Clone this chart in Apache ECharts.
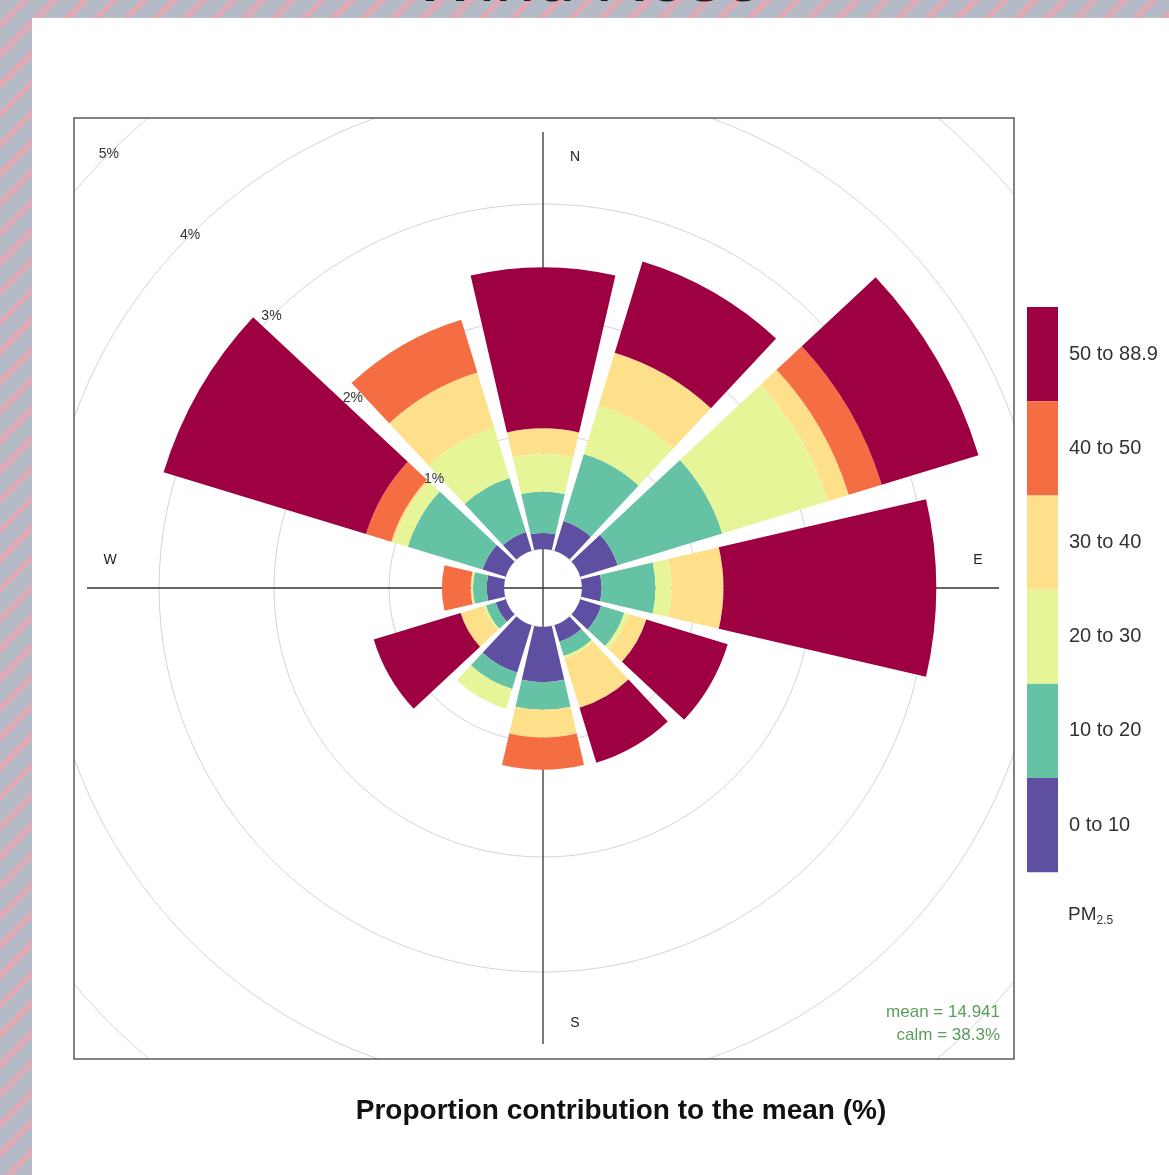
<!DOCTYPE html>
<html>
<head>
<meta charset="utf-8">
<script src="https://cdn.jsdelivr.net/npm/echarts@6/dist/echarts.min.js"></script>
<style>
  html, body {
    margin: 0; padding: 0; width: 1169px; height: 1175px; overflow: hidden;
    background: repeating-linear-gradient(135deg, #b5bac7 0 15px, #dfaab4 15px 21px);
  }
  #title { position: absolute; left: 0; top: 0; width: 1169px; height: 18px; }
  #chart { position: absolute; left: 32px; top: 18px; width: 1137px; height: 1157px; background: #fff; }
</style>
</head>
<body>
<div id="title"></div>
<div id="chart"></div>
<script>
// Wind sectors, clockwise from north
const directions = ['N', 'NNE', 'ENE', 'E', 'ESE', 'SSE', 'S', 'SSW', 'WSW', 'W', 'WNW', 'NNW'];

// PM2.5 concentration bands and their colours
const bandNames  = ['0 to 10', '10 to 20', '20 to 30', '30 to 40', '40 to 50', '50 to 88.9'];
const bandColors = ['#5E4FA2', '#66C2A5', '#E6F598', '#FEE08B', '#F46D43', '#9E0142'];

// Contribution to the mean (%) of each band, per sector
const pm0_10   = [0.14, 0.27, 0.34, 0.17, 0.19, 0.15, 0.48, 0.43, 0.09, 0.15, 0.21, 0.17];
const pm10_20  = [0.36, 0.61, 0.95, 0.47, 0.21, 0.13, 0.24, 0.15, 0.09, 0.12, 0.68, 0.49];
const pm20_30  = [0.33, 0.44, 0.96, 0.14, 0.04, 0.02, 0.00, 0.18, 0.02, 0.01, 0.13, 0.46];
const pm30_40  = [0.22, 0.48, 0.19, 0.45, 0.16, 0.45, 0.24, 0.00, 0.21, 0.01, 0.02, 0.50];
const pm40_50  = [0.00, 0.00, 0.30, 0.00, 0.00, 0.00, 0.28, 0.00, 0.00, 0.25, 0.23, 0.48];
const pm50_889 = [1.40, 0.83, 0.88, 1.85, 0.74, 0.50, 0.00, 0.00, 0.79, 0.00, 1.84, 0.00];
const bandValues = [pm0_10, pm10_20, pm20_30, pm30_40, pm40_50, pm50_889];

// Radial grid (%) and compass labels
const radiusMax = 5.5;
const radiusStep = 1;
const compass = ['N', 'E', 'S', 'W'];
const meanText = 'mean = 14.941';
const calmText = 'calm = 38.3%';
const captionText = 'Proportion contribution to the mean (%)';

// Layout (pixels inside the white panel)
const cx = 511, cy = 570;          // rose centre
const hole = 39;                   // calm circle radius
const pxPerPct = 115;              // radial scale
const outerR = hole + pxPerPct * radiusMax;
const box = { x: 42, y: 100, w: 940, h: 941 };
const W = 1137, H = 1157;
const font = 'Liberation Sans, Arial, sans-serif';

const series = bandNames.map((name, i) => ({
  type: 'bar',
  name: name,
  coordinateSystem: 'polar',
  polarIndex: 0,
  stack: 'pm',
  data: bandValues[i],
  barCategoryGap: '13%',
  itemStyle: { color: bandColors[i] },
  emphasis: { disabled: true },
  z: 2
}));

const compassPos = [
  [cx + 32, cy - 431], [cx + 435, cy - 28], [cx + 32, cy + 435], [cx - 433, cy - 28]
];

const chart = echarts.init(document.getElementById('chart'), null, { renderer: 'canvas' });
chart.setOption({
  animation: false,
  backgroundColor: '#fff',
  polar: [
    { center: [cx, cy], radius: [hole, outerR] },
    { center: [cx, cy], radius: [0, 456] },
    { center: [cx, cy], radius: [hole, outerR] }
  ],
  angleAxis: [
    { polarIndex: 0, type: 'category', data: directions, startAngle: 105, clockwise: true,
      axisLine: { show: false }, axisTick: { show: false }, axisLabel: { show: false },
      splitLine: { show: false }, splitArea: { show: false } },
    { polarIndex: 1, type: 'value', min: 0, max: 360, interval: 90, startAngle: 90, clockwise: true,
      axisLine: { show: false }, axisTick: { show: false }, axisLabel: { show: false },
      splitLine: { show: true, lineStyle: { color: '#333', width: 1.3 } } },
    { polarIndex: 2, type: 'value', min: 0, max: 360, startAngle: 135, clockwise: true,
      axisLine: { show: false }, axisTick: { show: false }, axisLabel: { show: false },
      splitLine: { show: false } }
  ],
  radiusAxis: [
    { polarIndex: 0, type: 'value', min: 0, max: radiusMax, interval: radiusStep,
      axisLine: { show: false }, axisTick: { show: false }, axisLabel: { show: false },
      splitLine: { show: true, showMinLine: false, lineStyle: { color: '#d4d4d4', width: 1 } } },
    { polarIndex: 1, type: 'value', min: 0, max: 1, show: false },
    { polarIndex: 2, type: 'value', min: 0, max: radiusMax, interval: radiusStep, z: 10,
      axisLine: { show: false }, axisTick: { show: false }, splitLine: { show: false },
      axisLabel: { show: true, formatter: '{value}%', margin: 0, align: 'center', verticalAlign: 'middle',
        showMinLabel: false, showMaxLabel: false, fontSize: 14, color: '#333', fontFamily: font } }
  ],
  legend: {
    orient: 'vertical', left: 995, top: 289, padding: 0,
    itemWidth: 31, itemHeight: 94.2, itemGap: 0, icon: 'rect',
    data: bandNames.slice().reverse(),
    selectedMode: false,
    textStyle: { fontSize: 20, color: '#333', fontFamily: font, padding: [0, 0, 0, 6] },
    z: 10
  },
  graphic: [
    // keep grid rings inside the plot frame
    { type: 'rect', shape: { x: 0, y: 0, width: box.x, height: H }, style: { fill: '#fff' }, z: 5, silent: true },
    { type: 'rect', shape: { x: box.x + box.w, y: 0, width: W - box.x - box.w, height: H }, style: { fill: '#fff' }, z: 5, silent: true },
    { type: 'rect', shape: { x: 0, y: 0, width: W, height: box.y }, style: { fill: '#fff' }, z: 5, silent: true },
    { type: 'rect', shape: { x: 0, y: box.y + box.h, width: W, height: H - box.y - box.h }, style: { fill: '#fff' }, z: 5, silent: true },
    { type: 'rect', shape: { x: box.x, y: box.y, width: box.w, height: box.h },
      style: { fill: 'none', stroke: '#5a5a5a', lineWidth: 1.5 }, z: 6, silent: true },
    ...compass.map((t, i) => ({
      type: 'text', x: compassPos[i][0], y: compassPos[i][1], z: 10, silent: true,
      style: { text: t, fontSize: 14, fill: '#222', fontFamily: font, align: 'center', verticalAlign: 'middle' }
    })),
    { type: 'text', x: box.x + box.w - 14, y: cy + 424, z: 10, silent: true,
      style: { text: meanText, fontSize: 17, fill: '#5c9c5c', fontFamily: font, align: 'right', verticalAlign: 'middle' } },
    { type: 'text', x: box.x + box.w - 14, y: cy + 447, z: 10, silent: true,
      style: { text: calmText, fontSize: 17, fill: '#5c9c5c', fontFamily: font, align: 'right', verticalAlign: 'middle' } },
    { type: 'text', x: 589, y: 1093, z: 10, silent: true,
      style: { text: captionText, fontSize: 28, fontWeight: 'bold', fill: '#111', fontFamily: font,
        align: 'center', verticalAlign: 'middle' } },
    { type: 'text', x: 1036, y: 897, z: 10, silent: true,
      style: { text: '{a|PM}{b|2.5}', fontFamily: font, align: 'left', verticalAlign: 'middle',
        rich: {
          a: { fontSize: 19, lineHeight: 24, fill: '#333', fontFamily: font },
          b: { fontSize: 12, lineHeight: 12, fill: '#333', fontFamily: font, verticalAlign: 'bottom' }
        } } }
  ],
  series: series
});

// Slide heading, mostly above the visible area
const head = echarts.init(document.getElementById('title'), null, { renderer: 'canvas' });
head.setOption({
  animation: false,
  graphic: [{
    type: 'text', x: 587, y: -19, silent: true,
    style: { text: 'Wind Rose', fontSize: 72, fill: '#1c1c1c', fontFamily: font,
      align: 'center', verticalAlign: 'middle' }
  }]
});
</script>
</body>
</html>
